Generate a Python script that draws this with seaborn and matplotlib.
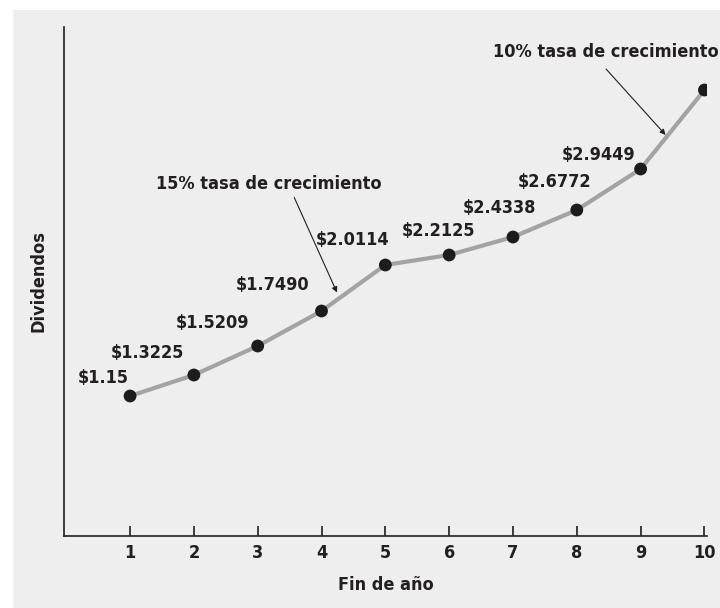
import matplotlib
matplotlib.use('Agg')
import matplotlib.pyplot as plt
from matplotlib import font_manager
import pandas as pd
import seaborn as sns
from matplotlib.patches import Rectangle

# Data (heights are the schematic plotted heights, axis units)
anios = [1, 2, 3, 4, 5, 6, 7, 8, 9, 10]
altura = [140, 161, 190, 225, 271, 281, 299, 326, 367, 446]
dividendos = ['$1.15', '$1.3225', '$1.5209', '$1.7490', '$2.0114',
              '$2.2125', '$2.4338', '$2.6772', '$2.9449']

# label offsets from each dot, in pixels (layout only)
label_dx = [-27, -46, -45, -49, -33, -11, -14, -22, -42]
label_dy = [18, 22, 23, 26, 25, 24, 29, 28, 14]

df = pd.DataFrame({'anio': anios, 'altura': altura})

sns.set_style("ticks")
plt.rcParams['font.family'] = ['DejaVu Sans']
plt.rcParams['font.stretch'] = 'condensed'
plt.rcParams['font.weight'] = 'bold'

# see which condensed faces exist
cond = sorted({(f.name, f.stretch, f.weight) for f in font_manager.fontManager.ttflist
               if 'ondens' in f.fname or 'arrow' in f.fname})
print(cond)

fig = plt.figure(figsize=(7.2, 6.08), dpi=100, facecolor='white')
fig.patches.append(Rectangle((13 / 720, 0), 1, 598 / 608, transform=fig.transFigure,
                             facecolor='#eeeeee', edgecolor='none', zorder=-10))
ax = fig.add_axes([64 / 720, 72 / 608, 643 / 720, 509 / 608])
ax.set_facecolor('none')

sns.lineplot(data=df, x='anio', y='altura', ax=ax, color='#a3a3a3', linewidth=3)
sns.scatterplot(data=df, x='anio', y='altura', ax=ax, color='#1c1c1c', s=85,
                edgecolor='none', zorder=5)

for i, lab in enumerate(dividendos):
    ax.annotate(lab, xy=(anios[i], altura[i]), xytext=(label_dx[i], label_dy[i]),
                textcoords='offset pixels', ha='center', va='center',
                fontsize=13, fontweight='bold', color='#231f20')

# growth annotations
ax.text(3.18, 352, '15% tasa de crecimiento', ha='center', va='center',
        fontsize=13, fontweight='bold', color='#231f20')
ax.annotate('', xy=(4.26, 241), xytext=(3.555, 341),
            arrowprops=dict(arrowstyle='-|>', lw=0.8, color='#231f20', mutation_scale=8))
ax.text(8.45, 484, '10% tasa de crecimiento', ha='center', va='center',
        fontsize=13, fontweight='bold', color='#231f20')
ax.annotate('', xy=(9.42, 399), xytext=(8.43, 469),
            arrowprops=dict(arrowstyle='-|>', lw=0.8, color='#231f20', mutation_scale=8))

ax.set_xlim(-0.035, 10.04)
ax.set_ylim(0, 509)
ax.set_xticks(anios)
ax.set_yticks([])
ax.tick_params(axis='x', direction='in', length=7, width=1.2, color='#231f20',
               labelsize=13, pad=6, labelcolor='#231f20')
for lbl in ax.get_xticklabels():
    lbl.set_fontweight('bold')

sns.despine(ax=ax)
for s in ['left', 'bottom']:
    ax.spines[s].set_linewidth(1.2)
    ax.spines[s].set_color('#231f20')

ax.set_xlabel('Fin de año', fontsize=13, fontweight='bold', color='#231f20', labelpad=10)
ax.set_ylabel('Dividendos', fontsize=13, fontweight='bold', color='#231f20', labelpad=12)

fig.savefig('out.png', dpi=100)
